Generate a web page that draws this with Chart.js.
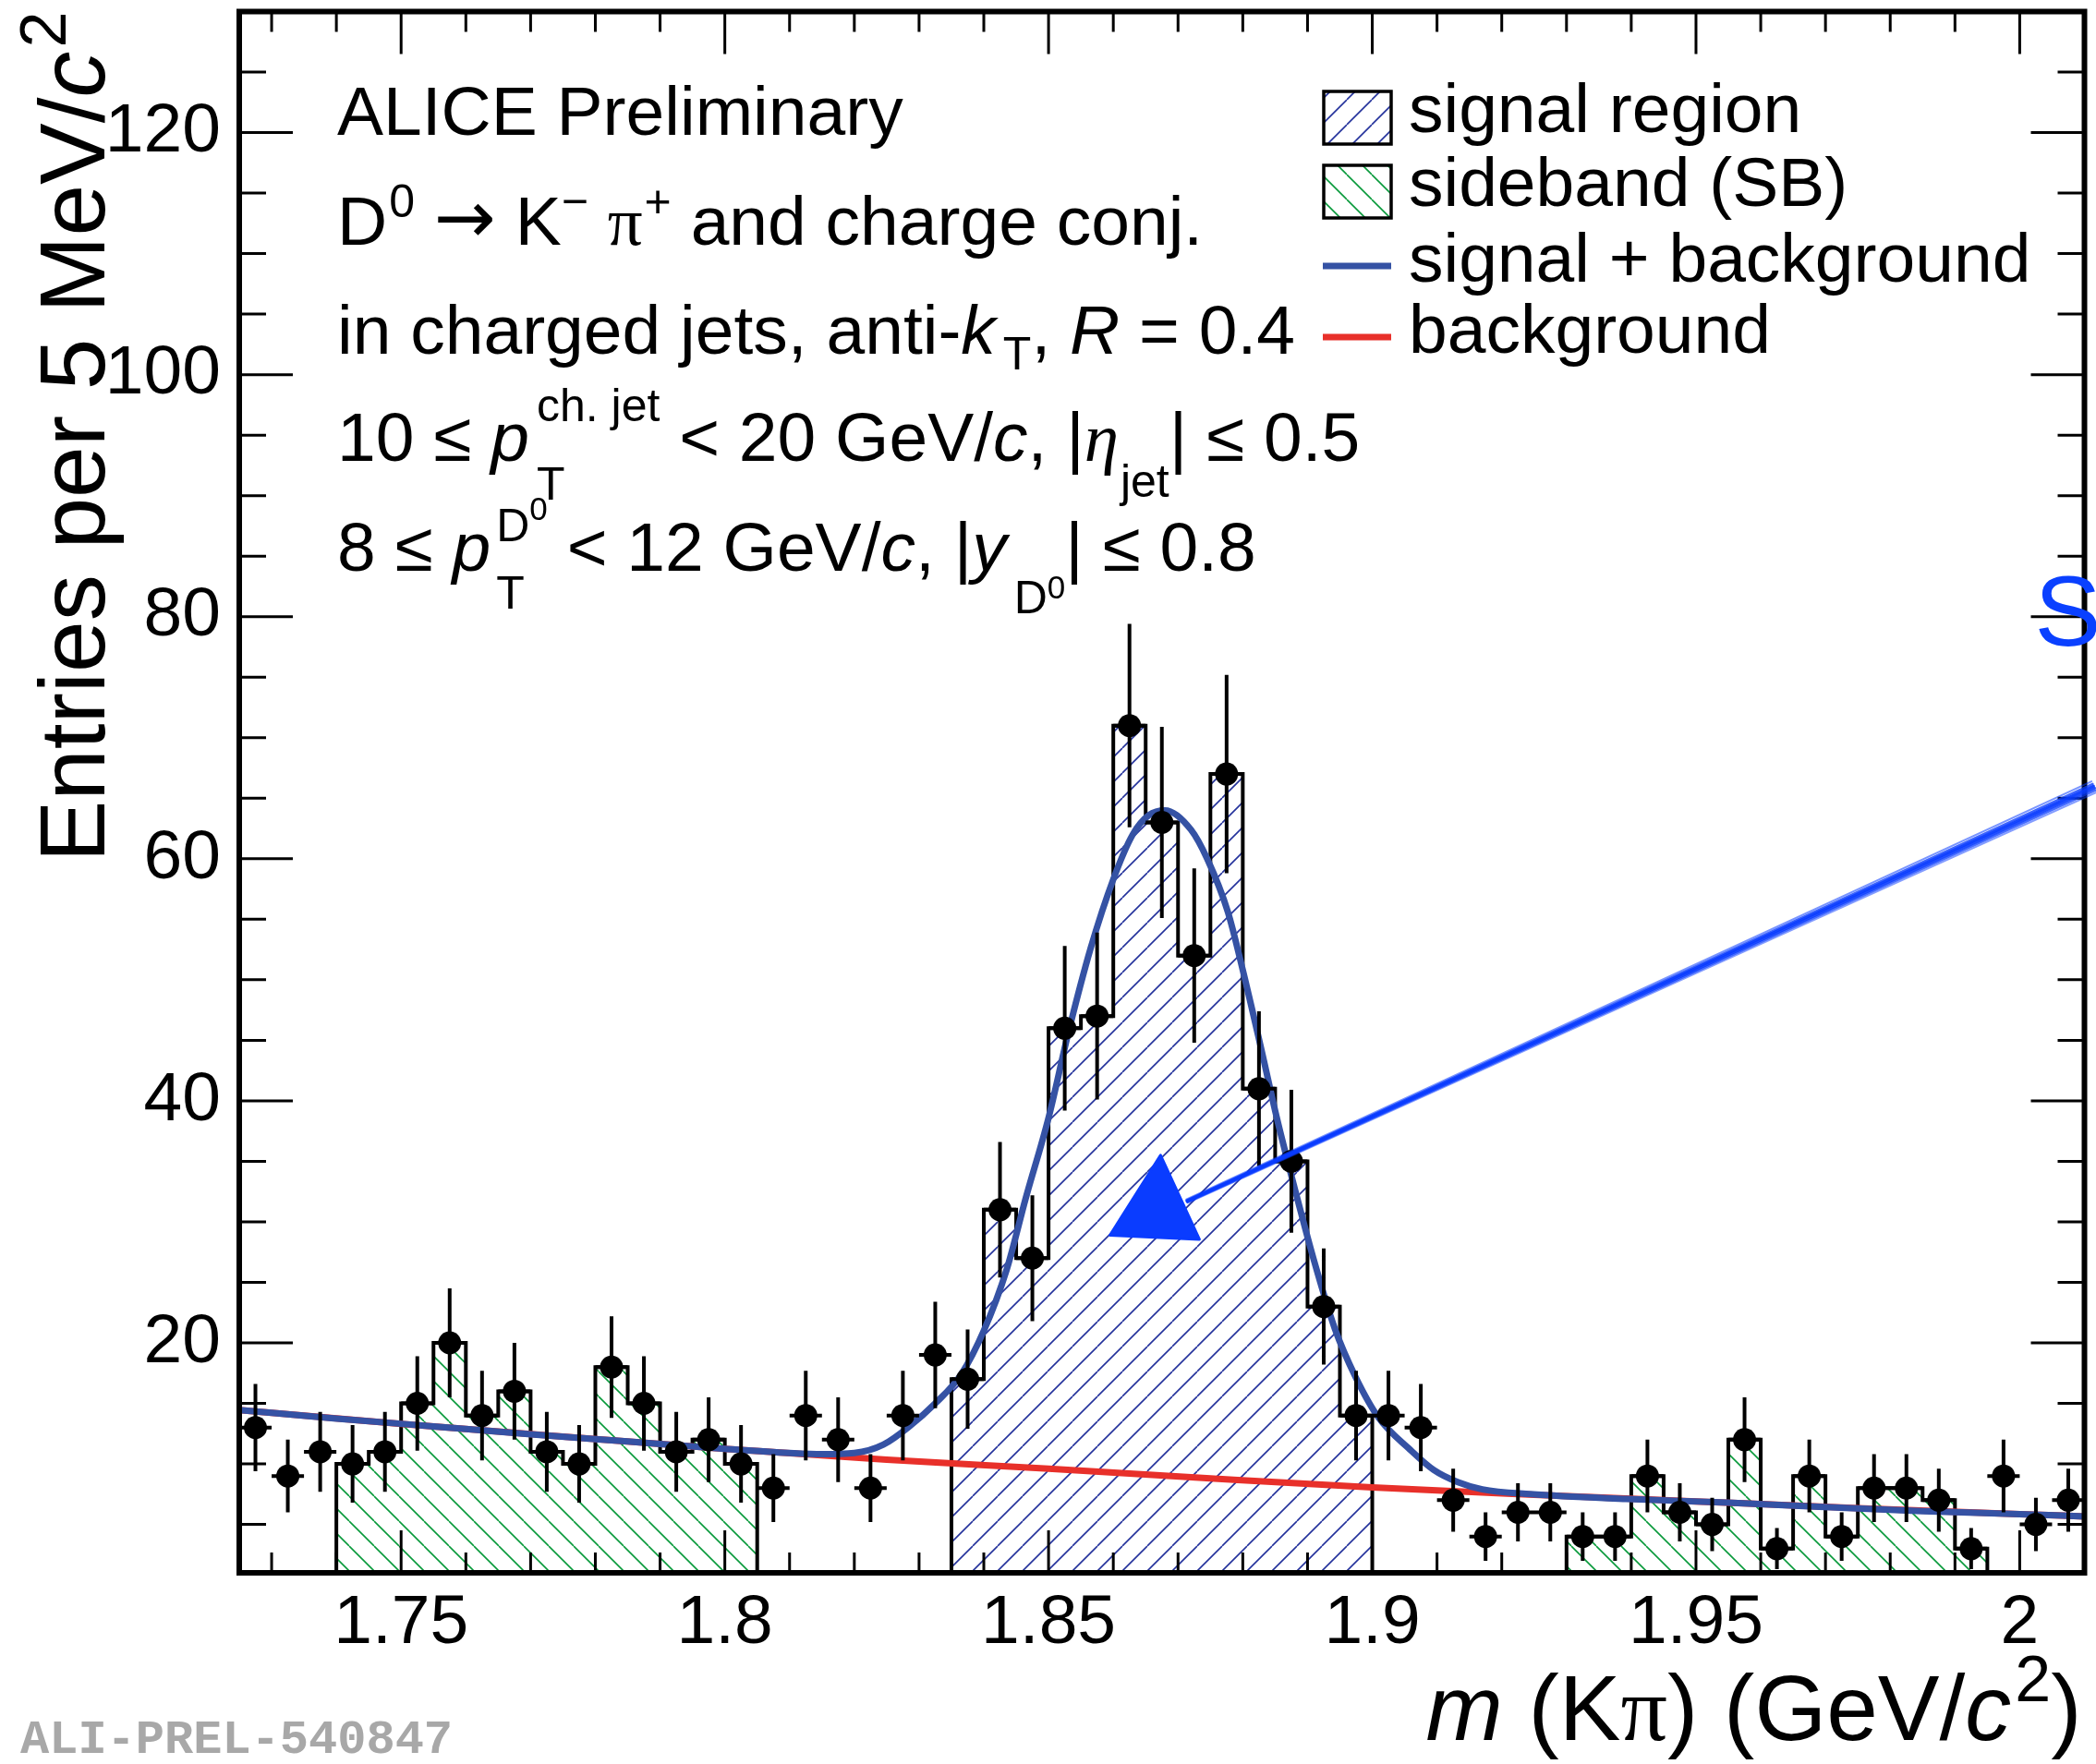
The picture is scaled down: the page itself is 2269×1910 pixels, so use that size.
<!DOCTYPE html>
<html>
<head>
<meta charset="utf-8">
<title>D0 invariant mass in charged jets</title>
<script src="https://cdn.jsdelivr.net/npm/chart.js@4.4.1/dist/chart.umd.min.js"></script>
<style>
  html, body { margin: 0; padding: 0; background: #fff; }
  canvas { display: block; }
</style>
</head>
<body>
<canvas id="massChart" width="2269" height="1910"></canvas>
<script>
// K-pi invariant mass, 5 MeV/c^2 bins (bin centres)
const massBins = [
  1.7275, 1.7325, 1.7375, 1.7425, 1.7475, 1.7525, 1.7575, 1.7625, 1.7675, 1.7725,
  1.7775, 1.7825, 1.7875, 1.7925, 1.7975, 1.8025, 1.8075, 1.8125, 1.8175, 1.8225,
  1.8275, 1.8325, 1.8375, 1.8425, 1.8475, 1.8525, 1.8575, 1.8625, 1.8675, 1.8725,
  1.8775, 1.8825, 1.8875, 1.8925, 1.8975, 1.9025, 1.9075, 1.9125, 1.9175, 1.9225,
  1.9275, 1.9325, 1.9375, 1.9425, 1.9475, 1.9525, 1.9575, 1.9625, 1.9675, 1.9725,
  1.9775, 1.9825, 1.9875, 1.9925, 1.9975, 2.0025, 2.0075
];
const binWidth = 0.005;
const entries = [
  13, 9, 11, 10, 11, 15, 20, 14, 16, 11,
  10, 18, 15, 11, 12, 10, 8, 14, 12, 8,
  14, 19, 17, 31, 27, 46, 47, 71, 63, 52,
  67, 41, 35, 23, 14, 14, 13, 7, 4, 6,
  6, 4, 4, 9, 6, 5, 12, 3, 9, 4,
  8, 8, 7, 3, 9, 5, 7
];
const entryErrors = [
  3.6, 3, 3.3, 3.2, 3.3, 3.9, 4.5, 3.7, 4, 3.3,
  3.2, 4.2, 3.9, 3.3, 3.5, 3.2, 2.8, 3.7, 3.5, 2.8,
  3.7, 4.4, 4.1, 5.6, 5.2, 6.8, 6.9, 8.4, 7.9, 7.2,
  8.2, 6.4, 5.9, 4.8, 3.7, 3.7, 3.6, 2.6, 2, 2.4,
  2.4, 2, 2, 3, 2.4, 2.2, 3.5, 1.7, 3, 2,
  2.8, 2.8, 2.6, 1.7, 3, 2.2, 2.6
];
const signalRegion = [1.835, 1.900];
const sidebandRegions = [[1.740, 1.805], [1.930, 1.995]];

// fit curves
const totalFitMass = [
  1.725, 1.740, 1.755, 1.770, 1.785, 1.800, 1.810, 1.815, 1.820, 1.8245,
  1.8285, 1.8325, 1.8365, 1.840, 1.8435, 1.8465, 1.850, 1.853, 1.8565, 1.860,
  1.863, 1.8655, 1.868, 1.872, 1.8745, 1.8777, 1.880, 1.8828, 1.8853, 1.888,
  1.891, 1.8942, 1.8974, 1.901, 1.9058, 1.9095, 1.9132, 1.917, 1.9244, 1.9393,
  1.955, 1.969, 1.985, 2.000, 2.010
];
const totalFitValues = [
  14.45, 13.75, 13.1, 12.45, 11.85, 11.25, 10.9, 10.8, 10.9, 11.6,
  13.1, 15.0, 17.4, 21.0, 26.0, 32.0, 38.6, 45.5, 52.6, 58.3,
  62.0, 63.6, 64.0, 62.4, 60.0, 55.6, 50.8, 44.4, 38.5, 32.8,
  26.8, 21.2, 17.2, 13.8, 11.2, 9.5, 8.5, 7.9, 7.5, 7.1,
  6.8, 6.45, 6.1, 5.85, 5.66
];
const bkgFitMass = [1.725, 1.750, 1.775, 1.800, 1.825, 1.850, 1.875, 1.900, 1.925, 1.950, 1.975, 2.000, 2.010];
const bkgFitValues = [14.45, 13.3, 12.25, 11.25, 10.35, 9.6, 8.8, 8.05, 7.45, 6.9, 6.35, 5.85, 5.66];

const xTickValues = [1.75, 1.8, 1.85, 1.9, 1.95, 2];
const xTickLabels = ['1.75', '1.8', '1.85', '1.9', '1.95', '2'];
const yTickValues = [20, 40, 60, 80, 100, 120];
const yTickLabels = ['20', '40', '60', '80', '100', '120'];

// hand-drawn annotation (data coordinates)
const arrowHead = [[1.8673, 35.5], [1.8595, 28.9], [1.8733, 28.55]];
const arrowShaft = [[1.8714, 31.7], [2.0115, 65.9]];
const arrowLabel = { x: 2.0023, y: 77.6, text: 'S' };

const FONT = '"Liberation Sans", Arial, Helvetica, sans-serif';
const GREEK = '"Liberation Serif", "Times New Roman", serif';
const SYMBOL = '"DejaVu Sans", sans-serif';

function hatch(color, rising) {
  const s = 27;
  const c = document.createElement('canvas');
  c.width = s; c.height = s;
  const g = c.getContext('2d');
  g.strokeStyle = color;
  g.lineWidth = 1.6;
  g.beginPath();
  for (const k of [-s, 0, s]) {
    if (rising) { g.moveTo(k, s); g.lineTo(k + s, 0); }
    else { g.moveTo(k, 0); g.lineTo(k + s, s); }
  }
  g.stroke();
  return document.getElementById('massChart').getContext('2d').createPattern(c, 'repeat');
}
const signalHatch = hatch('#25339c', true);
const sidebandHatch = hatch('#0a9a3c', false);

function histOutline(lo, hi) {
  const pts = [];
  massBins.forEach((m, i) => {
    if (m > lo && m < hi) {
      if (!pts.length) pts.push({ x: m - binWidth / 2, y: 0 });
      pts.push({ x: m - binWidth / 2, y: entries[i] });
    }
  });
  const last = pts[pts.length - 1];
  pts.push({ x: last.x + binWidth, y: last.y });
  pts.push({ x: last.x + binWidth, y: 0 });
  return pts;
}

function histDataset(region, pattern, order) {
  return {
    type: 'line',
    data: histOutline(region[0], region[1]),
    stepped: 'before',
    borderColor: '#000',
    borderWidth: 4,
    backgroundColor: pattern,
    fill: 'start',
    pointRadius: 0,
    order: order
  };
}

// rich text: segments {t, it, greek, sym, size, dy, dx, stack}
function layoutRich(ctx, segs, base) {
  let cx = 0, prevStart = 0;
  const out = [];
  for (const s of segs) {
    const size = s.size || base;
    const fam = s.greek ? GREEK : (s.sym ? SYMBOL : FONT);
    const font = (s.it ? 'italic ' : '') + size + 'px ' + fam;
    ctx.font = font;
    const start = (s.stack ? prevStart : cx) + (s.dx || 0);
    const w = ctx.measureText(s.t).width;
    out.push({ t: s.t, font: font, x: start, dy: s.dy || 0 });
    prevStart = start;
    cx = Math.max(cx, start + w);
  }
  return { items: out, width: cx };
}
function drawRich(ctx, x, y, segs, base, align) {
  const lay = layoutRich(ctx, segs, base);
  const x0 = align === 'right' ? x - lay.width : x;
  ctx.textAlign = 'left';
  ctx.textBaseline = 'alphabetic';
  for (const it of lay.items) {
    ctx.font = it.font;
    ctx.fillText(it.t, x0 + it.x, y + it.dy);
  }
}

const infoLines = [
  [{ t: 'ALICE Preliminary' }],
  [{ t: 'D' }, { t: '0', size: 50, dy: -30, dx: 2 }, { t: ' ' }, { t: '\u2192', sym: true, size: 80, dy: -2 },
   { t: ' K' }, { t: '\u2212', size: 50, dy: -30 },
   { t: ' ' }, { t: '\u03c0', greek: true }, { t: '+', size: 50, dy: -30, dx: 2 }, { t: ' and charge conj.' }],
  [{ t: 'in charged jets, anti-' }, { t: 'k', it: true }, { t: 'T', size: 50, dy: 17, dx: 8 },
   { t: ', ' }, { t: 'R', it: true }, { t: ' = 0.4' }],
  [{ t: '10 \u2264 ' }, { t: 'p', it: true }, { t: 'T', size: 50, dy: 42, dx: 8 },
   { t: 'ch. jet', size: 50, dy: -43, stack: true }, { t: ' < 20 GeV/' }, { t: 'c', it: true },
   { t: ', |' }, { t: '\u03b7', it: true, greek: true }, { t: 'jet', size: 50, dy: 39, dx: 2 }, { t: '| \u2264 0.5' }],
  [{ t: '8 \u2264 ' }, { t: 'p', it: true }, { t: 'T', size: 50, dy: 41, dx: 6 },
   { t: 'D', size: 50, dy: -32, stack: true }, { t: '0', size: 35, dy: -55 }, { t: ' < 12 GeV/' },
   { t: 'c', it: true }, { t: ', |' }, { t: 'y', it: true }, { t: 'D', size: 50, dy: 46, dx: 8 },
   { t: '0', size: 35, dy: 30 }, { t: '| \u2264 0.8' }]
];
const infoBaselines = [146, 265, 383, 499, 618];

const legendItems = [
  { label: 'signal region', box: signalHatch },
  { label: 'sideband (SB)', box: sidebandHatch },
  { label: 'signal + background', line: '#3552a4' },
  { label: 'background', line: '#e8302a' }
];

const rootPlugin = {
  id: 'rootStyle',
  beforeDatasetDraw(chart, args) {
    if (args.index !== 0) return;
    const ctx = chart.ctx, xs = chart.scales.x, ys = chart.scales.y, a = chart.chartArea;
    ctx.save();
    ctx.beginPath();
    ctx.rect(a.left, a.top, a.right - a.left, a.bottom - a.top);
    ctx.clip();
    ctx.strokeStyle = '#000';
    ctx.lineWidth = 4;
    ctx.beginPath();
    massBins.forEach((m, i) => {
      const px = xs.getPixelForValue(m);
      const py = ys.getPixelForValue(entries[i]);
      ctx.moveTo(px, ys.getPixelForValue(entries[i] - entryErrors[i]));
      ctx.lineTo(px, ys.getPixelForValue(entries[i] + entryErrors[i]));
      ctx.moveTo(xs.getPixelForValue(m - binWidth / 2), py);
      ctx.lineTo(xs.getPixelForValue(m + binWidth / 2), py);
    });
    ctx.stroke();
    ctx.restore();
  },
  afterDraw(chart) {
    const ctx = chart.ctx, xs = chart.scales.x, ys = chart.scales.y, a = chart.chartArea;
    ctx.save();
    // ticks on all four sides
    ctx.strokeStyle = '#000';
    ctx.lineWidth = 3;
    ctx.beginPath();
    for (let k = 173; k <= 201; k++) {
      const v = k / 100;
      const px = xs.getPixelForValue(v);
      const len = (k % 5 === 0) ? 46 : 22;
      ctx.moveTo(px, a.bottom); ctx.lineTo(px, a.bottom - len);
      ctx.moveTo(px, a.top); ctx.lineTo(px, a.top + len);
    }
    for (let v = 5; v < 130; v += 5) {
      const py = ys.getPixelForValue(v);
      const len = (v % 20 === 0) ? 58 : 29;
      ctx.moveTo(a.left, py); ctx.lineTo(a.left + len, py);
      ctx.moveTo(a.right, py); ctx.lineTo(a.right - len, py);
    }
    ctx.stroke();
    // frame
    ctx.lineWidth = 6;
    ctx.strokeRect(a.left, a.top, a.right - a.left, a.bottom - a.top);

    // axis titles
    ctx.fillStyle = '#000';
    ctx.save();
    ctx.translate(113, a.top);
    ctx.rotate(-Math.PI / 2);
    drawRich(ctx, 0, 0, [{ t: 'Entries per 5 MeV/' }, { t: 'c', it: true }, { t: '2', size: 70, dy: -42, dx: 4 }], 100, 'right');
    ctx.restore();
    drawRich(ctx, a.right - 3, 1884, [{ t: 'm', it: true }, { t: ' (K' }, { t: '\u03c0', greek: true },
      { t: ') (GeV/' }, { t: 'c', it: true }, { t: '2', size: 70, dy: -42, dx: 4 }, { t: ')' }], 100, 'right');

    // info text
    infoLines.forEach((segs, i) => drawRich(ctx, 365, infoBaselines[i], segs, 75, 'left'));

    // legend
    legendItems.forEach((it, i) => {
      const base = [143, 223, 305, 382][i];
      if (it.box) {
        const top = base - 44;
        ctx.fillStyle = '#fff';
        ctx.fillRect(1433, top, 73, 57);
        ctx.fillStyle = it.box;
        ctx.fillRect(1433, top, 73, 57);
        ctx.strokeStyle = '#000';
        ctx.lineWidth = 3.5;
        ctx.strokeRect(1433, top, 73, 57);
      } else {
        ctx.strokeStyle = it.line;
        ctx.lineWidth = 7;
        ctx.beginPath();
        ctx.moveTo(1432, base - 17);
        ctx.lineTo(1506, base - 17);
        ctx.stroke();
      }
      ctx.fillStyle = '#000';
      ctx.font = '75px ' + FONT;
      ctx.textAlign = 'left';
      ctx.textBaseline = 'alphabetic';
      ctx.fillText(it.label, 1525, base);
    });

    // preliminary tag
    ctx.fillStyle = '#a8a8a8';
    ctx.font = 'bold 52px "Liberation Mono", "Courier New", monospace';
    ctx.fillText('ALI-PREL-540847', 22, 1898);

    // hand-drawn blue arrow
    const P = (p) => [xs.getPixelForValue(p[0]), ys.getPixelForValue(p[1])];
    const s0 = P(arrowShaft[0]), s1 = P(arrowShaft[1]);
    const dx = s1[0] - s0[0], dy = s1[1] - s0[1], L = Math.hypot(dx, dy);
    const nx = -dy / L, ny = dx / L;
    ctx.lineCap = 'round';
    [[-7, 2, 0.55], [-4, 2.5, 0.8], [-1.5, 3, 0.95], [1, 3, 0.9], [3.5, 2.5, 0.75], [6, 2, 0.5]].forEach(([o, w, al]) => {
      ctx.strokeStyle = 'rgba(10, 60, 255, ' + al + ')';
      ctx.lineWidth = w;
      ctx.beginPath();
      ctx.moveTo(s0[0] + nx * o * 0.3, s0[1] + ny * o * 0.3);
      ctx.lineTo(s1[0] + nx * o, s1[1] + ny * o);
      ctx.stroke();
    });
    const tri = arrowHead.map(P);
    ctx.fillStyle = '#0a3cff';
    ctx.strokeStyle = '#0a3cff';
    ctx.lineWidth = 3;
    ctx.lineJoin = 'round';
    ctx.beginPath();
    ctx.moveTo(tri[0][0], tri[0][1]);
    ctx.lineTo(tri[1][0], tri[1][1]);
    ctx.lineTo(tri[2][0], tri[2][1]);
    ctx.closePath();
    ctx.fill();
    ctx.stroke();
    ctx.fillStyle = '#0a40ff';
    ctx.font = '108px ' + FONT;
    ctx.fillText(arrowLabel.text, xs.getPixelForValue(arrowLabel.x), ys.getPixelForValue(arrowLabel.y));
    ctx.restore();
  }
};

const ctx = document.getElementById('massChart').getContext('2d');
const massChart = new Chart(ctx, {
  type: 'line',
  data: {
    datasets: [
      {
        type: 'line',
        data: massBins.map((m, i) => ({ x: m, y: entries[i] })),
        showLine: false,
        pointRadius: 12.5,
        pointBackgroundColor: '#000',
        pointBorderWidth: 0,
        order: 0
      },
      {
        type: 'line',
        data: totalFitMass.map((m, i) => ({ x: m, y: totalFitValues[i] })),
        borderColor: '#3552a4',
        borderWidth: 7,
        cubicInterpolationMode: 'monotone',
        pointRadius: 0,
        fill: false,
        order: 1
      },
      {
        type: 'line',
        data: bkgFitMass.map((m, i) => ({ x: m, y: bkgFitValues[i] })),
        borderColor: '#e8302a',
        borderWidth: 7,
        cubicInterpolationMode: 'monotone',
        pointRadius: 0,
        fill: false,
        order: 2
      },
      histDataset(signalRegion, signalHatch, 3),
      histDataset(sidebandRegions[0], sidebandHatch, 4),
      histDataset(sidebandRegions[1], sidebandHatch, 5)
    ]
  },
  options: {
    responsive: false,
    animation: false,
    devicePixelRatio: 1,
    layout: { padding: { top: 12, right: 9, left: 0, bottom: 0 } },
    plugins: { legend: { display: false }, tooltip: { enabled: false } },
    scales: {
      x: {
        type: 'linear',
        min: 1.725,
        max: 2.01,
        grid: { display: false, drawTicks: false },
        border: { display: false },
        afterBuildTicks: (s) => { s.ticks = xTickValues.map(v => ({ value: v })); },
        afterFit: (s) => { s.height = 207; s.paddingLeft = 0; s.paddingRight = 0; },
        ticks: {
          font: { family: FONT, size: 75 },
          color: '#000',
          padding: 10,
          maxRotation: 0,
          autoSkip: false,
          callback: (v, i) => xTickLabels[i]
        }
      },
      y: {
        type: 'linear',
        min: 1,
        max: 130,
        grid: { display: false, drawTicks: false },
        border: { display: false },
        afterBuildTicks: (s) => { s.ticks = yTickValues.map(v => ({ value: v })); },
        afterFit: (s) => { s.width = 259; s.paddingTop = 0; s.paddingBottom = 0; },
        ticks: {
          font: { family: FONT, size: 75 },
          color: '#000',
          padding: 20,
          autoSkip: false,
          callback: (v, i) => yTickLabels[i]
        }
      }
    }
  },
  plugins: [rootPlugin]
});
</script>
</body>
</html>
